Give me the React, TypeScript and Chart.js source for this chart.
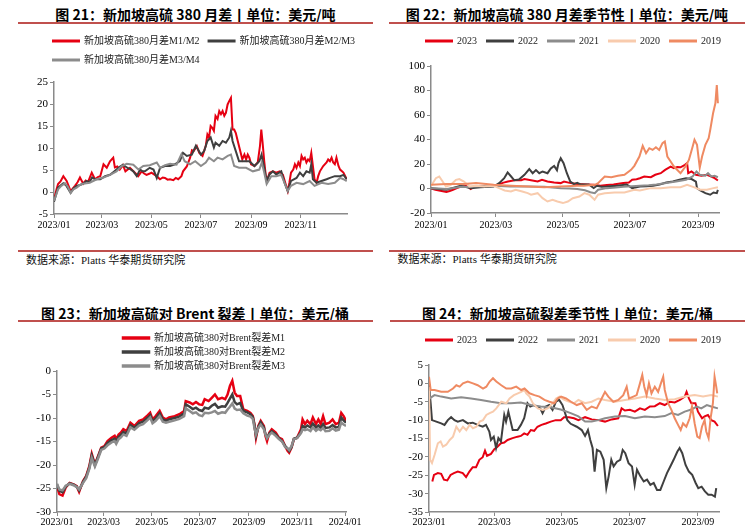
import React, { useEffect, useRef } from "react";
import { Chart, registerables } from "chart.js";

Chart.register(...registerables);

type P = [number, number];

// ---------- axis ticks (day of year 2023) ----------
const yearTickDays = [0, 59, 120, 181, 243, 304];
const yearTickLabels = ["2023/01", "2023/03", "2023/05", "2023/07", "2023/09", "2023/11"];
const crackTickDays = [0, 59, 120, 181, 243, 304, 365];
const crackTickLabels = ["2023/01", "2023/03", "2023/05", "2023/07", "2023/09", "2023/11", "2024/01"];
const seasonTickDays = [0, 59, 120, 181, 243];
const seasonTickLabels = ["2023/01", "2023/03", "2023/05", "2023/07", "2023/09"];

// ---------- 图21: 月差 (day, value) ----------
const m1m2: P[] = [[0,-1.7],[3,0.5],[5,1.8],[8,2.4],[11.5,3.6],[15.6,2.5],[20.5,0.2],[25.8,1.4],[29,2.2],[32,3.3],[36,1.9],[39,2.6],[42,2.3],[46.5,4.4],[50.5,2.9],[54,3.4],[57,3.6],[61,6.3],[65,5.5],[69,7],[73,7.8],[75,5.6],[78,5.8],[81,5.1],[85,6.1],[88,4.7],[93.6,5.5],[99.7,4.4],[103.8,3.6],[107.9,4.7],[111,4.2],[114,3.9],[118,4.2],[120,4.4],[126.5,3.6],[130.6,2.9],[134,3.3],[136.7,3.2],[140,2.8],[143,2.9],[147,2.7],[150,3.2],[153,2.9],[157,3.6],[159,4.7],[163.6,5.8],[167.7,7.8],[170,9.5],[172,9.3],[176,10.4],[179,8.9],[183,8.2],[187,10.5],[189,13.1],[191,12.4],[193,15],[195,14.6],[197,13.9],[199,17.3],[201.5,16.6],[203.6,18.4],[205.7,17.7],[207.7,18.4],[209.8,17.3],[211.8,18],[213.9,19.9],[216,20.7],[218,21.4],[220,14.2],[222,14.2],[224,13.4],[226,11.9],[230,8.9],[232,7.4],[234.6,8.5],[236.7,7.4],[238.7,8.5],[240.7,7.8],[242.8,6.3],[247,5.9],[251,6.7],[253.8,10.5],[255.4,14.2],[257,11.2],[259,7],[261,3.6],[263,2.9],[265.6,4.4],[269.7,4.7],[273.8,4.4],[278,4.7],[282,3.9],[286,1.4],[288,0.2],[290,2.1],[292,4.4],[294.8,5.1],[296.8,6.3],[298.8,5.5],[301,6.7],[303,5.9],[305,8.2],[307,7.4],[309,7.8],[311,6.7],[313,7.4],[315,7],[317,8.9],[319,5.9],[321,2.9],[323.5,2.1],[325.5,3.6],[327.6,4.7],[331.7,5.9],[335.8,6.7],[337.8,7.4],[340,7],[342,7.8],[344,6.7],[346,6.3],[348,7.8],[350.5,5.9],[352.5,5.1],[356.6,4.4],[360.7,2.9]];
const m2m3: P[] = [[0,-2.2],[5,1],[11.5,2],[15,1.5],[20.5,-0.2],[24,0.8],[28,1.4],[32,1.6],[36,1.9],[40,2.5],[44,2.3],[47,3.3],[50.5,2.9],[57,2.9],[63,3.6],[69,3.9],[73,4.5],[77,5.1],[81,5.7],[85,6.2],[88,5.8],[91.5,5.4],[94,5.2],[97.7,4.7],[102,3.6],[106,5.1],[109,4.7],[112,4.7],[118,5.5],[122.6,5.1],[126.6,3.2],[130.7,5.5],[136.8,5.9],[143,5.9],[149,6.3],[155,7],[159,8.9],[163.6,8.2],[169.8,8.5],[174.8,10.5],[181,8.5],[185,9.3],[189,11.6],[193,12.4],[197,10.1],[199,11.2],[203.6,10.5],[207.7,11.6],[211.8,11.2],[216,12.4],[218,13.9],[220,11.6],[224,9.3],[228,7],[234.6,7],[240.7,7],[247,5.9],[253,7],[255.7,8.5],[259,5.5],[262,2.5],[265.6,4],[269.7,4.7],[273.8,4],[280,4.7],[284,2.1],[288,0.2],[292,2.5],[298.8,3.2],[303,4.4],[307,3.6],[311,4.7],[315,4.4],[317,6.3],[319,2.9],[323.5,2.1],[329.6,2.5],[335.8,2.9],[340,3.2],[346,3.6],[352.5,3.6],[356.6,3.9],[360.7,2.9]];
const m3m4: P[] = [[0,-2],[5,0.6],[9,1.4],[13.5,2],[17,1.2],[20.5,-0.2],[24,0.6],[28,1],[32,1.6],[36,1.9],[44,2.1],[52.6,2.9],[61,3.3],[69,3.9],[77,4.7],[83.5,5.9],[89.6,6.4],[97.7,6.2],[104,5.1],[110,5.9],[118,6.1],[126.6,6.7],[130.7,5.5],[136.8,6.1],[143,6.4],[151,6.2],[157,8.6],[161,7],[167.7,6.3],[174,7],[181,5.9],[187,6.7],[191,7.8],[197,7],[201.5,7.8],[207.7,7.4],[214,8.2],[218,8.5],[222,5.9],[228,5.5],[236.7,5.5],[245,4.7],[253,5.1],[256,6.7],[259,4.4],[262,1.8],[267.7,3.6],[273.8,3.6],[280,3.9],[284,2.1],[288,0.2],[292,1.4],[298.8,2.1],[307,1.8],[315,2.5],[321,1.4],[329.6,2.1],[337.8,1.8],[346,2.1],[352.5,3.2],[356.6,2.9],[360.7,2.5]];

// ---------- 图22: 月差季节性 ----------
const spread2023: P[] = [[0,0],[4,-1],[8.5,-1.9],[14,-2.9],[17,-2],[20,-1],[24,0.5],[27,1.4],[33,2.2],[36,-0.5],[40,1.6],[45,1.8],[50,2],[55,2.2],[60,2.5],[62,3.6],[66,4.8],[70,5.7],[76,6.7],[82,6.7],[85,7.7],[91,6.7],[97,5.7],[101,7.1],[106,5.7],[112,4.9],[118,4.4],[121,5.7],[127,4.4],[133,3.6],[142,3.3],[148,3],[154,2.2],[160,2.8],[166,3.3],[175,4.4],[180,4.9],[183,7.1],[187,7.5],[190,8.4],[194,9.8],[200,9.2],[204,11.2],[209,12.5],[213,15.2],[218,17.9],[221,16.6],[224,17.5],[227,17.3],[231,19.3],[233,20.7],[234,12.5],[237,13.9],[241,11.2],[246,10.4],[251,11.2],[255,9.8],[258,8.4],[261,6.5]];
const spread2022: P[] = [[0,0.3],[7,-0.5],[14,-1],[20,0.5],[27,2.2],[32,1.2],[36,0.3],[45,1],[57,1.6],[62,4.4],[66.6,8.4],[69.7,13.1],[72.7,10],[75.8,6.7],[80,7.3],[85,11.2],[89.4,15.8],[92.5,12.5],[95.5,15],[98.5,12.5],[101.5,13.9],[106,12.5],[109,16.4],[112,18.5],[114.6,15],[116,20.7],[118,24.7],[120.6,20.7],[123.6,12.5],[126.7,5.7],[130,3.6],[133,4.7],[136,3.3],[143.6,3.3],[148,0.3],[151,2.2],[155,1.5],[160,1.6],[165,2],[169,2.2],[178,3.3],[183,0.3],[190,1.6],[196,1.8],[202,2.2],[208,3.3],[214,4.9],[220,5.7],[226,7.1],[232,8.4],[237,7.7],[241,5.7],[242,0.3],[245,-1.6],[249.6,-3.8],[254,-5.1],[257,-3.3],[260,-3.8],[261,-1.1]];
const spread2021: P[] = [[0,0.3],[7,0],[14,-0.5],[21,0.5],[27,1.4],[34,1.2],[41,1.6],[50,2],[57,2.2],[72,1.6],[88,1.6],[103,1.4],[118,0.3],[126,0],[133,-0.5],[140,-1.5],[145,-3],[149,-3.8],[152,-1],[160,0.3],[168,0.8],[175,1.4],[183,1.8],[190,2.2],[198,2.7],[205,3.3],[214,4.4],[223,5.7],[232,7.1],[238,9.8],[241.5,13.9],[244.5,11.2],[249.6,10.4],[252,12.5],[255,9.8],[258,10.4],[261,9.2]];
const spread2020: P[] = [[0,2],[4.4,8.4],[7.5,9.8],[10.6,5.7],[13.6,1.6],[18,3],[22.7,7.1],[25.8,7.7],[30,5.7],[35,1.6],[41,2.2],[48.5,1.6],[57,2.2],[62,0.3],[67,-1.6],[72.7,-2.4],[77,-1],[83,-2.4],[88,-3.8],[91,-5.1],[97,-3.8],[101.5,-7.9],[106,-10.6],[110.6,-9.2],[115,-10.6],[120,-11.9],[124.5,-10.6],[129,-7.9],[135,-6.5],[139.6,-3.8],[144,-5.1],[148.8,-9.2],[152,-5.1],[158,-3.8],[167,-3.3],[176,-3.3],[185,-1],[190,-1.6],[200,0.3],[209,0.3],[218,1.1],[227,1.1],[233,3],[239,1.1],[245,-1],[251,-1],[257,0.3],[261,1.1]];
const spread2019: P[] = [[0,3],[14,3.6],[30,3.6],[41,4.4],[57,3],[73,2.2],[88,1.6],[103,1.1],[118,1.6],[133,2.2],[139,2.2],[149,3],[152,4.4],[158,9.8],[164,9.2],[170,10.4],[176,11.2],[182,15.2],[185,18.5],[189.6,26.1],[192.6,34.8],[195.6,28.8],[198.6,32.9],[201.6,31.5],[204.6,33.7],[207.6,31.5],[210.6,37],[212.7,38.3],[215,26.1],[218,22],[221,17.9],[227,12.5],[231.5,17.9],[234.6,23.3],[237.6,32.9],[239.7,39.7],[242,35.6],[244.5,17],[246.6,26.1],[249.6,35.6],[252.6,41],[254,47.8],[256.6,61.4],[258.7,69.6],[260,84.5],[261,69.6]];

// ---------- 图23: 裂差 ----------
const crackDays = [0,3,7,11,16,21,25,28,33,37,41,44,48,52,56,60,64,69,73,75,78,81,84,88,93,98,104,109,115,118,121,125,130,134,138,142,149,155,161,163,168,172,176,180,184,187,192,196,200,204,209,213,216,219,222,225,228,232,236,241,245,248,250,252,255,258,262,264,266,269,272,277,281,285,289,292,294,297,300,304,309,311,314,317,321,324,328,331,334,337,340,345,349,353,357,360,363,366];
const crackM1 = [-24.5,-26.2,-26.5,-24.8,-23.8,-24.1,-24.5,-25.7,-23.4,-22.3,-20.2,-17.6,-19.9,-18.1,-16.3,-16,-14.9,-14.2,-13.8,-14.5,-13.5,-13.1,-12.4,-12.8,-11,-11.7,-10.6,-10.3,-9.4,-8.9,-10.3,-9.6,-8.5,-9.9,-10.3,-9.9,-9.6,-9.2,-8.5,-6.4,-6.7,-7.1,-6.6,-7.1,-7.2,-6,-6.4,-5.7,-5,-6,-5.7,-6,-5,-3.2,-2.1,-4.6,-5.3,-5.3,-8.2,-8.5,-8.9,-9.6,-11.3,-14.2,-11.7,-10.6,-11.7,-13.8,-14.9,-13.1,-12.4,-13.1,-14.2,-14.5,-16,-17,-17.4,-16.3,-14.5,-14.2,-12.4,-10.3,-11.3,-10.6,-11.3,-9.9,-11.3,-10.3,-11.3,-9.6,-11.3,-11,-10.3,-11.3,-11,-8.9,-9.6,-10.6];
const crackM2 = [-24.2,-25.5,-25.8,-24.6,-23.9,-24.2,-24.6,-25.4,-23.6,-22.5,-20.5,-18,-20,-18.3,-16.5,-16.2,-15.3,-14.7,-14.4,-15,-14,-13.6,-13,-13.3,-11.5,-12.1,-11.1,-10.8,-9.9,-9.4,-10.7,-10.1,-9,-10.3,-10.6,-10.3,-10,-9.7,-9,-7.1,-7.6,-8.1,-7.8,-8.3,-8.5,-7.8,-8,-7.4,-7,-7.8,-7.5,-7.6,-6.8,-5.9,-5,-6.6,-7.1,-6.8,-8.5,-8.8,-9.2,-9.8,-11.5,-13.8,-11.9,-10.9,-12,-13.4,-14.2,-13.3,-12.8,-13.5,-14.3,-14.9,-16,-16.5,-17,-16.2,-14.4,-14.2,-13,-11.7,-12,-11.6,-12,-11.2,-12,-11.6,-12.1,-11.3,-12.1,-12,-11.5,-12,-11.9,-9.9,-10.5,-11];
const crackM3 = [-24,-25.2,-25.4,-24.4,-24,-24.3,-24.7,-25.2,-23.8,-22.8,-20.8,-18.5,-20.3,-18.6,-16.8,-16.5,-15.8,-15.2,-14.9,-15.5,-14.5,-14.1,-13.5,-13.8,-12,-12.5,-11.6,-11.3,-10.4,-9.9,-11.1,-10.6,-9.6,-10.8,-11,-10.8,-10.5,-10.2,-9.6,-7.9,-8.5,-9,-8.8,-9.4,-9.6,-8.9,-9,-8.8,-8.5,-9.1,-8.8,-8.9,-8.2,-7.6,-6.9,-8,-8.3,-8.2,-9,-9.5,-9.7,-10.2,-12,-13.5,-12.1,-11.4,-12.4,-13.5,-14.3,-13.6,-13.1,-13.8,-14.5,-15,-16.2,-16.5,-16.8,-16,-14.5,-14.3,-13.2,-12.4,-12.6,-12.4,-12.8,-12,-12.7,-12.3,-12.6,-12.1,-12.8,-12.7,-12.2,-12.7,-12.5,-11,-11.4,-11.7];

// ---------- 图24: 裂差季节性 ----------
const crack2023: P[] = [[3,-26.7],[4.5,-24.9],[8,-24.4],[11,-24.6],[13.5,-26.2],[16.5,-26.4],[19.5,-24.9],[22.5,-24.4],[26,-24],[30.5,-24.4],[33.5,-25.5],[36.5,-24],[39.5,-22.8],[42.5,-22.8],[45.5,-20.8],[48.5,-20.1],[50.6,-18.3],[52.4,-19.7],[56,-19.2],[59,-17.9],[61.4,-17.4],[65,-16.3],[68,-16.1],[71,-15.4],[75.5,-14.9],[80,-14.5],[83,-14.3],[86,-13.6],[89,-14],[92,-12.7],[95,-12.9],[98,-11.8],[101.6,-11.3],[105.5,-10.9],[110,-10.4],[114.5,-10],[119,-10],[122,-9.2],[126.5,-9.2],[131,-9.5],[135,-10],[141,-9.2],[147,-9.8],[153,-10],[159,-10.4],[165,-9.8],[171,-9.5],[174,-6.8],[177,-7.4],[181.5,-7.2],[186,-7.7],[190.6,-6.8],[195,-7.2],[199.6,-6.3],[204,-6.2],[208.6,-5.4],[213,-5.9],[217.6,-5],[222,-5.2],[226.7,-4.5],[231,-3.6],[232.7,-2.3],[234.8,-4.1],[237,-5.4],[240.7,-5.4],[243,-7.7],[246.7,-9.5],[249,-9],[252,-8.6],[255,-10],[258,-10.4],[261,-11.6]];
const crack2022: P[] = [[0,-0.5],[1.5,-5.4],[2.7,-10],[6.6,-10.4],[11,-10.9],[14,-11.3],[17,-10],[20,-9.2],[23,-10],[26,-10.4],[30.6,-10],[35,-10.9],[39.5,-10.7],[44,-11.3],[48.5,-11.8],[51.5,-11.3],[54.5,-13.1],[56,-15.4],[58.5,-14.5],[60.6,-17.6],[62.7,-14.9],[65,-15.8],[68,-8.6],[69.6,-10.4],[71.7,-7.7],[73.5,-10],[75.6,-12.7],[80,-12.7],[83,-11.3],[86,-9.5],[89,-5.4],[91.5,-6.3],[94.5,-5.9],[97.5,-6.3],[100.5,-6.8],[102.6,-8.1],[105.6,-6.3],[108.6,-5.9],[111.6,-7.2],[114.6,-5],[117.6,-4.5],[120.6,-5.9],[125,-10],[128,-11],[133.5,-11.8],[138,-12.7],[141,-14.3],[143.6,-12.7],[145.7,-15.4],[147.8,-17.6],[149.6,-24],[151.7,-18.1],[154.8,-18.6],[157.8,-20.8],[160.2,-28.5],[162.3,-25.3],[164.7,-20.8],[166.8,-22.6],[169.8,-21.3],[172.8,-20.8],[175,-18.1],[177.3,-19],[180.3,-21.7],[183.4,-22.6],[185.8,-27.6],[187.9,-23.5],[191,-25.3],[194,-26.7],[197,-26.2],[200,-27.6],[203,-27.1],[206,-29],[209,-29],[212,-26.7],[215,-24.4],[218,-22.6],[221,-20.8],[224.3,-18.6],[226.4,-17.6],[228.8,-19],[231.8,-22.2],[234.8,-24],[237.8,-24.9],[240.9,-27.1],[243.3,-28.5],[246.3,-28.1],[249.3,-29.4],[252.3,-30.3],[255.3,-30.3],[258.3,-30.8],[259.5,-28.5]];
const crack2021: P[] = [[0,-2.7],[0.5,-4.1],[5,-3.2],[11,-3.6],[20,-4.1],[29,-3.8],[38,-4.1],[47,-4.5],[56,-5],[65,-5.4],[74,-5.4],[83,-5.2],[92,-5.9],[101,-6.3],[110,-6.5],[119,-7.1],[128,-8.1],[135,-9],[141,-10.4],[147,-10.4],[153,-10],[159,-9.5],[168,-9],[177,-8.9],[186,-9.5],[195,-9],[204,-9.2],[213,-8.9],[219,-8.1],[225,-8.6],[231,-7.7],[237,-7.1],[242,-6.3],[246,-6.8],[251,-5.9],[255,-6.3],[261,-6.8]];
const crack2020: P[] = [[0,-0.9],[1,-20.8],[2.7,-21.7],[5,-19.5],[8,-16.3],[10.5,-15.8],[12.6,-17.2],[15.6,-16.7],[18.7,-15.4],[21.7,-14.5],[24.7,-11.8],[27.7,-13.1],[30.7,-11.8],[33.7,-12.7],[36.7,-11.3],[39.7,-12.2],[42.8,-11.8],[45.8,-10.4],[48.8,-10],[51.8,-8.6],[54.8,-8.1],[57.8,-7.7],[60.8,-6.8],[65.3,-5],[69.8,-5.4],[72.8,-4.1],[76.7,-3.2],[80.3,-2.7],[83.3,-2.3],[86.3,-1.8],[87.8,-2.7],[90.8,-3.6],[93.8,-5.4],[98.3,-6.8],[102.8,-7.2],[107.3,-6.8],[111.8,-5.4],[114.8,-4.1],[117.8,-3.6],[122.3,-4.5],[126.8,-5],[131,-5.4],[135,-4.5],[141,-5.4],[147,-5],[153,-4.1],[159,-4.5],[168,-5],[177,-4.5],[186,-4.1],[195,-3.6],[204,-4.1],[213,-4.5],[222,-4.3],[231,-3.6],[240,-3.2],[247.6,-3.6],[255,-3.2],[261,-3.6]];
const crack2019: P[] = [[0,1.8],[1.5,-1.8],[5,-1.8],[11,-2.3],[17,-2.3],[21.7,-1.4],[24.7,-0.5],[27.7,-0.9],[30.7,0],[35,0.5],[39.7,0],[44,-0.5],[48.8,-1.4],[51.8,-0.9],[54.8,0.5],[57.8,1.4],[60.8,0.5],[65.3,-0.5],[69.8,-1.4],[74.3,-1.4],[78.8,-0.9],[83.3,-1.8],[86.3,-1.4],[90.8,-2.7],[95.3,-3.2],[99.8,-3.6],[104.3,-4.5],[108.8,-5],[113.3,-5.4],[116.3,-4.1],[119.3,-3.6],[123.8,-4.1],[128.3,-5],[133.5,-5.9],[138,-5.4],[142.5,-7.2],[147,-6.3],[151.5,-6.8],[156,-4.1],[159,-2.3],[162,-3.6],[166.5,-5],[171,-4.5],[175.5,-3.2],[178.6,-0.9],[180.7,-4.1],[184.6,-3.6],[187.6,-3.2],[190.6,0],[192.7,2.3],[194.5,-0.9],[196.6,-3.2],[198.7,0],[201,-2.7],[204,-0.9],[207,-2.3],[209.5,0],[211.6,1.8],[213,-1.8],[216,-5.4],[219,-7.2],[222,-9.5],[225,-11.3],[227.4,-12.7],[229.5,-10.9],[232.5,-11.8],[235.5,-9.5],[237.6,-6.3],[240,-10.9],[242.4,-14.5],[244.5,-14.9],[246.6,-11.8],[249,-10],[250.5,-13.1],[252.6,-14.9],[254.4,-9.5],[256.5,-5.4],[258,1.8],[259.5,-0.9],[260.4,-2.7]];

// ---------- styles ----------
const RED = "#E60012";
const DARK = "#3F3F3F";
const GRAY = "#8C8C8C";
const PINK = "#F8CBAD";
const ORANGE = "#EF8A62";
const RULE = "#C0504D";
const AXIS = "#8A8A8A";
const TICK_FONT = "'Liberation Serif', 'Times New Roman', serif";
const LEGEND_FONT = "'Liberation Serif', 'Noto Sans CJK SC', serif";

const legendPos = {
  id: "legendPos",
  afterLayout(chart: any, _a: any, opts: any) {
    const lg = chart.legend;
    if (!lg || opts == null || opts.left == null) return;
    lg.left = opts.left;
    lg.right = opts.left + opts.width;
    lg.top = opts.top;
    lg.bottom = opts.top + lg.height;
  },
};

type Series = { label: string; data: P[]; color: string };
type Spec = {
  series: Series[];
  xMin: number; xMax: number; xTicks: number[]; xLabels: string[];
  yMin: number; yMax: number; yStep: number;
  yWidth: number; xHeight: number; xPad: number;
  padding: { top: number; right: number; left: number; bottom: number };
  legendPad: number;
  legend: { left: number; width: number; top: number };
  lineWidth: number;
};

function makeConfig(s: Spec): any {
  const n = s.series.length;
  return {
    type: "line",
    data: {
      datasets: s.series.map((ser, i) => ({
        label: ser.label,
        data: ser.data.map(([x, y]) => ({ x, y })),
        borderColor: ser.color,
        backgroundColor: ser.color,
        borderWidth: s.lineWidth,
        pointRadius: 0,
        tension: 0,
        order: n - i,
      })),
    },
    options: {
      responsive: false,
      animation: false,
      devicePixelRatio: 1,
      parsing: true,
      layout: { padding: s.padding },
      plugins: {
        tooltip: { enabled: false },
        legend: {
          display: true,
          position: "top",
          align: "start",
          labels: {
            boxWidth: 26,
            boxHeight: 1,
            padding: s.legendPad,
            color: "#222",
            font: { size: 10, family: LEGEND_FONT },
            sort: (a: any, b: any) => a.datasetIndex - b.datasetIndex,
          },
        },
        legendPos: s.legend,
      },
      scales: {
        x: {
          type: "linear",
          min: s.xMin,
          max: s.xMax,
          afterBuildTicks: (sc: any) => {
            sc.ticks = s.xTicks.map((v) => ({ value: v }));
          },
          afterFit: (sc: any) => {
            sc.height = s.xHeight;
          },
          ticks: {
            autoSkip: false,
            maxRotation: 0,
            padding: s.xPad,
            color: "#000",
            font: { size: 10, family: TICK_FONT },
            callback: (v: number) => {
              const k = s.xTicks.indexOf(v);
              return k >= 0 ? s.xLabels[k] : "";
            },
          },
          grid: { display: true, drawOnChartArea: false, drawTicks: true, tickLength: 4, color: AXIS, lineWidth: 1 },
          border: { display: true, color: AXIS, width: 1.5 },
        },
        y: {
          type: "linear",
          min: s.yMin,
          max: s.yMax,
          afterFit: (sc: any) => {
            sc.width = s.yWidth;
          },
          ticks: {
            stepSize: s.yStep,
            padding: 2,
            color: "#000",
            font: { size: 11, family: TICK_FONT },
          },
          grid: { display: true, drawOnChartArea: false, drawTicks: true, tickLength: 4, color: AXIS, lineWidth: 1 },
          border: { display: true, color: AXIS, width: 1.5 },
        },
      },
    },
    plugins: [legendPos],
  };
}

function ChartCanvas({ left, top, width, height, spec }: { left: number; top: number; width: number; height: number; spec: Spec }) {
  const ref = useRef<HTMLCanvasElement>(null);
  useEffect(() => {
    if (!ref.current) return;
    const chart = new Chart(ref.current, makeConfig(spec));
    return () => chart.destroy();
  }, []);
  return (
    <canvas
      ref={ref}
      width={width}
      height={height}
      style={{ position: "absolute", left, top, width, height }}
    />
  );
}

function Title({ cx, cy, text }: { cx: number; cy: number; text: string }) {
  return (
    <div
      style={{
        position: "absolute",
        left: cx - 200,
        width: 400,
        top: cy - 10,
        height: 20,
        lineHeight: "20px",
        textAlign: "center",
        fontSize: 14,
        fontWeight: 700,
        color: "#000",
        whiteSpace: "nowrap",
        fontFamily: "'Noto Sans CJK SC', sans-serif",
      }}
    >
      {text}
    </div>
  );
}

function Rule({ x, w, y }: { x: number; w: number; y: number }) {
  return <div style={{ position: "absolute", left: x, top: y, width: w, height: 2, background: RULE }} />;
}

function Source({ x, cy }: { x: number; cy: number }) {
  return (
    <div
      style={{
        position: "absolute",
        left: x,
        top: cy - 8,
        height: 16,
        lineHeight: "16px",
        fontSize: 11,
        color: "#111",
        whiteSpace: "nowrap",
        fontFamily: "'Liberation Serif', 'Noto Sans CJK SC', serif",
      }}
    >
      数据来源：Platts 华泰期货研究院
    </div>
  );
}

const spec21: Spec = {
  series: [
    { label: "新加坡高硫380月差M1/M2", data: m1m2, color: RED },
    { label: "新加坡高硫380月差M2/M3", data: m2m3, color: DARK },
    { label: "新加坡高硫380月差M3/M4", data: m3m4, color: GRAY },
  ],
  xMin: 0, xMax: 361, xTicks: yearTickDays, xLabels: yearTickLabels,
  yMin: -5, yMax: 25, yStep: 5,
  yWidth: 44, xHeight: 20, xPad: 1,
  padding: { top: 9, right: 18, left: 0, bottom: 0 },
  legendPad: 9,
  legend: { left: 34, width: 340, top: 2 },
  lineWidth: 2,
};

const spec22: Spec = {
  series: [
    { label: "2023", data: spread2023, color: RED },
    { label: "2022", data: spread2022, color: DARK },
    { label: "2021", data: spread2021, color: GRAY },
    { label: "2020", data: spread2020, color: PINK },
    { label: "2019", data: spread2019, color: ORANGE },
  ],
  xMin: 0, xMax: 262, xTicks: seasonTickDays, xLabels: seasonTickLabels,
  yMin: -20, yMax: 100, yStep: 20,
  yWidth: 41, xHeight: 21, xPad: 2,
  padding: { top: 11, right: 16, left: 0, bottom: 0 },
  legendPad: 10,
  legend: { left: 26, width: 320, top: 1 },
  lineWidth: 2,
};

const crackSeries = (vals: number[]): P[] => crackDays.map((d, i) => [d, vals[i]]);

const spec23: Spec = {
  series: [
    { label: "新加坡高硫380对Brent裂差M1", data: crackSeries(crackM1), color: RED },
    { label: "新加坡高硫380对Brent裂差M2", data: crackSeries(crackM2), color: DARK },
    { label: "新加坡高硫380对Brent裂差M3", data: crackSeries(crackM3), color: GRAY },
  ],
  xMin: 0, xMax: 366, xTicks: crackTickDays, xLabels: crackTickLabels,
  yMin: -30, yMax: 0, yStep: 5,
  yWidth: 32, xHeight: 19, xPad: 0,
  padding: { top: 0, right: 19, left: 10, bottom: 0 },
  legendPad: 4,
  legend: { left: 104, width: 200, top: 10 },
  lineWidth: 2.5,
};

const spec24: Spec = {
  series: [
    { label: "2023", data: crack2023, color: RED },
    { label: "2022", data: crack2022, color: DARK },
    { label: "2021", data: crack2021, color: GRAY },
    { label: "2020", data: crack2020, color: PINK },
    { label: "2019", data: crack2019, color: ORANGE },
  ],
  xMin: 0, xMax: 262, xTicks: seasonTickDays, xLabels: seasonTickLabels,
  yMin: -35, yMax: 5, yStep: 5,
  yWidth: 37, xHeight: 19, xPad: 0,
  padding: { top: 16, right: 16, left: 0, bottom: 0 },
  legendPad: 10,
  legend: { left: 24, width: 320, top: 6 },
  lineWidth: 2,
};

export default function App() {
  return (
    <div
      style={{
        position: "fixed",
        left: 0,
        top: 0,
        width: 753,
        height: 531,
        background: "#fff",
        overflow: "hidden",
      }}
    >
      <Title cx={195.5} cy={13.5} text="图 21：新加坡高硫 380 月差丨单位：美元/吨" />
      <Rule x={18} w={355} y={22} />
      <ChartCanvas left={10} top={25} width={355} height={209} spec={spec21} />
      <Rule x={18} w={355} y={250} />
      <Source x={26} cy={259.5} />

      <Title cx={567} cy={13.5} text="图 22：新加坡高硫 380 月差季节性丨单位：美元/吨" />
      <Rule x={389} w={356} y={22} />
      <ChartCanvas left={390} top={25} width={345} height={209} spec={spec22} />
      <Rule x={389} w={356} y={250} />
      <Source x={397.5} cy={259} />

      <Title cx={195} cy={312.7} text="图 23：新加坡高硫对 Brent 裂差丨单位：美元/桶" />
      <Rule x={18} w={355} y={320} />
      <ChartCanvas left={15} top={319} width={350} height={212} spec={spec23} />

      <Title cx={567.5} cy={312.7} text="图 24：新加坡高硫裂差季节性丨单位：美元/桶" />
      <Rule x={390} w={355} y={320} />
      <ChartCanvas left={392} top={319} width={343} height={212} spec={spec24} />
    </div>
  );
}
